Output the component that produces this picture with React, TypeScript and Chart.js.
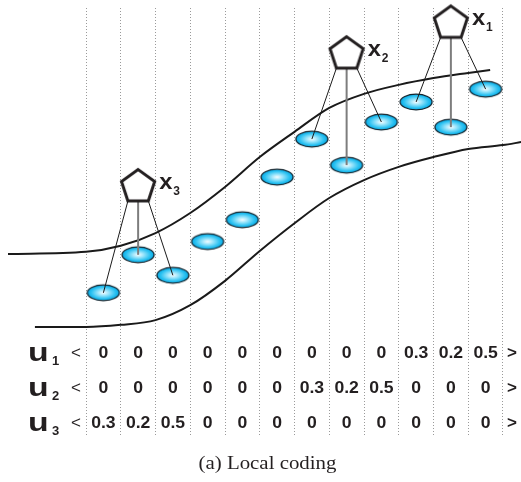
import React, { useEffect, useRef } from "react";
import { Chart, registerables } from "chart.js";

Chart.register(...registerables);

// ---- data ----
const COLUMN_COUNT = 12; // codebook bases (columns of the coding table)
const BASIS_LEVELS = [3.33, 4.22, 3.74, 4.53, 5.04, 6.04, 6.93, 6.32, 7.33, 7.8, 7.21, 8.1];

const SAMPLE_NAMES = ["1", "2", "3"]; // x1, x2, x3 subscripts
const SAMPLE_COLUMNS = [10.5, 7.5, 1.5];
const SAMPLE_LEVELS = [9.64, 8.92, 5.81];
const SAMPLE_BASES = [
  [9, 10, 11],
  [6, 7, 8],
  [0, 1, 2],
];

const UPPER_X = [-2.245, 0, 1, 2, 3, 4, 5, 6, 7, 8, 9, 10, 11, 11.63];
const UPPER_Y = [4.24, 4.29, 4.43, 4.73, 5.2, 5.81, 6.51, 7.1, 7.66, 7.99, 8.2, 8.36, 8.48, 8.55];

const LOWER_X = [-1.47, 0, 1, 2, 3, 4, 5, 6, 7, 8, 9, 10, 11, 12, 12.52];
const LOWER_Y = [2.53, 2.53, 2.58, 2.69, 3.04, 3.61, 4.31, 4.96, 5.55, 5.97, 6.28, 6.51, 6.7, 6.79, 6.86];

const ROW_NAMES = ["1", "2", "3"];
const U1 = [0, 0, 0, 0, 0, 0, 0, 0, 0, 0.3, 0.2, 0.5];
const U2 = [0, 0, 0, 0, 0, 0, 0.3, 0.2, 0.5, 0, 0, 0];
const U3 = [0.3, 0.2, 0.5, 0, 0, 0, 0, 0, 0, 0, 0, 0];
const CODES = [U1, U2, U3];

const CAPTION = "(a) Local coding";

// ---- styling ----
const INK = "#231f20";
const SANS = '"Liberation Sans", Arial, sans-serif';
const SERIF = '"Liberation Serif", "Times New Roman", serif';
const PENT_R = 17.4;

function makeBasisImage(): HTMLCanvasElement {
  const c = document.createElement("canvas");
  c.width = 36;
  c.height = 20;
  const g = c.getContext("2d")!;
  g.save();
  g.translate(18, 10);
  g.scale(1, 7.8 / 16);
  const grad = g.createRadialGradient(0, 0, 0, 0, 0, 16);
  grad.addColorStop(0, "#f6fdff");
  grad.addColorStop(0.3, "#a6e8fc");
  grad.addColorStop(0.75, "#2cc2f2");
  grad.addColorStop(1, "#05aae6");
  g.beginPath();
  g.arc(0, 0, 16, 0, Math.PI * 2);
  g.fillStyle = grad;
  g.fill();
  g.restore();
  g.beginPath();
  g.ellipse(18, 10, 16, 7.8, 0, 0, Math.PI * 2);
  g.lineWidth = 1.3;
  g.strokeStyle = "#13232c";
  g.stroke();
  return c;
}

function pentagonVertices(cx: number, cy: number) {
  return [-90, -18, 54, 126, 198].map((d) => {
    const a = (d * Math.PI) / 180;
    return { x: cx + PENT_R * Math.cos(a), y: cy + PENT_R * Math.sin(a) };
  });
}

function makePentagonImage(): HTMLCanvasElement {
  const c = document.createElement("canvas");
  c.width = 44;
  c.height = 44;
  const g = c.getContext("2d")!;
  const v = pentagonVertices(22, 22);
  g.beginPath();
  v.forEach((p, i) => (i ? g.lineTo(p.x, p.y) : g.moveTo(p.x, p.y)));
  g.closePath();
  g.fillStyle = "#ffffff";
  g.fill();
  g.lineWidth = 3;
  g.lineJoin = "miter";
  g.strokeStyle = INK;
  g.stroke();
  return c;
}

function drawText(
  ctx: CanvasRenderingContext2D,
  text: string,
  x: number,
  y: number,
  font: string,
  align: CanvasTextAlign,
  sx = 1
) {
  ctx.save();
  ctx.font = font;
  ctx.textAlign = align;
  ctx.textBaseline = "alphabetic";
  ctx.fillStyle = INK;
  ctx.translate(x, y);
  ctx.scale(sx, 1);
  ctx.fillText(text, 0, 0);
  ctx.restore();
}

const diagramPlugin = {
  id: "diagram",
  afterDatasetDraw(chart: any, args: any) {
    if (args.index !== 1) return; // connectors go over the bases, under the samples
    const ctx: CanvasRenderingContext2D = chart.ctx;
    const samples = chart.getDatasetMeta(0).data;
    const bases = chart.getDatasetMeta(1).data;
    const seg = (a: any, b: any, color: string, w: number) => {
      ctx.beginPath();
      ctx.moveTo(a.x, a.y);
      ctx.lineTo(b.x, b.y);
      ctx.strokeStyle = color;
      ctx.lineWidth = w;
      ctx.stroke();
    };
    ctx.save();
    samples.forEach((p: any, i: number) => {
      const v = pentagonVertices(p.x, p.y);
      const [l, m, r] = SAMPLE_BASES[i];
      seg({ x: p.x, y: v[2].y }, bases[m], "#7d7d7d", 2);
      seg(v[3], bases[l], "#1a1a1a", 1);
      seg(v[2], bases[r], "#1a1a1a", 1);
    });
    ctx.restore();
  },
  afterDraw(chart: any) {
    const ctx: CanvasRenderingContext2D = chart.ctx;
    const xs = chart.scales.x;
    const area = chart.chartArea;
    // sample labels
    chart.getDatasetMeta(0).data.forEach((p: any, i: number) => {
      drawText(ctx, "x", p.x + 21, p.y + 2, `bold 22px ${SANS}`, "left", 1.08);
      drawText(ctx, SAMPLE_NAMES[i], p.x + 35, p.y + 8, `bold 12px ${SANS}`, "left");
    });
    // coding table
    const left = xs.getPixelForValue(0);
    const right = xs.getPixelForValue(COLUMN_COUNT);
    CODES.forEach((row, r) => {
      const base = area.bottom - 77.5 + r * 35;
      drawText(ctx, "u", left - 58, base + 3.5, `bold 26px ${SANS}`, "left", 1.3);
      drawText(ctx, ROW_NAMES[r], left - 34, base + 7, `bold 13px ${SANS}`, "left");
      drawText(ctx, "<", left - 10, base, `17px ${SANS}`, "center");
      drawText(ctx, ">", right + 9, base, `bold 17px ${SANS}`, "center");
      row.forEach((v, c) => {
        drawText(ctx, String(v), xs.getPixelForValue(c + 0.5), base, `bold 16px ${SANS}`, "center", 1.1);
      });
    });
    // caption
    drawText(ctx, CAPTION, 267.5, 469, `18px ${SERIF}`, "center", 1.16);
  },
};

export default function App() {
  const ref = useRef<HTMLCanvasElement | null>(null);
  useEffect(() => {
    document.body.style.margin = "0";
    const canvas = ref.current!;
    const basisImg = makeBasisImage();
    const pentImg = makePentagonImage();
    const edges = Array.from({ length: COLUMN_COUNT + 1 }, (_, i) => i);
    const chart = new Chart(canvas, {
      type: "scatter",
      data: {
        datasets: [
          {
            label: "samples",
            data: SAMPLE_COLUMNS.map((x, i) => ({ x, y: SAMPLE_LEVELS[i] })),
            pointStyle: pentImg as any,
            pointRadius: 18,
            showLine: false,
            clip: false as any,
          },
          {
            label: "bases",
            data: BASIS_LEVELS.map((y, i) => ({ x: i + 0.5, y })),
            pointStyle: basisImg as any,
            pointRadius: 17,
            showLine: false,
            clip: false as any,
          },
          {
            label: "upper",
            data: UPPER_X.map((x, i) => ({ x, y: UPPER_Y[i] })),
            showLine: true,
            pointRadius: 0,
            borderColor: "#1a1a1a",
            borderWidth: 2,
            cubicInterpolationMode: "monotone",
            clip: false as any,
          },
          {
            label: "lower",
            data: LOWER_X.map((x, i) => ({ x, y: LOWER_Y[i] })),
            showLine: true,
            pointRadius: 0,
            borderColor: "#1a1a1a",
            borderWidth: 2,
            cubicInterpolationMode: "monotone",
            clip: false as any,
          },
        ],
      },
      options: {
        responsive: false,
        animation: false,
        events: [],
        layout: { autoPadding: false, padding: { top: 8, bottom: 47, left: 0, right: 0 } },
        plugins: { legend: { display: false }, tooltip: { enabled: false }, title: { display: false } },
        scales: {
          x: {
            type: "linear",
            min: -86 / 34.75,
            max: (521 - 86) / 34.75,
            afterBuildTicks: (scale: any) => {
              scale.ticks = edges.map((value) => ({ value }));
            },
            ticks: { display: false },
            grid: { display: true, drawTicks: false, color: "#9a9a9a", lineWidth: 1 },
            border: { display: false, dash: [1, 2] },
          },
          y: { type: "linear", min: 0, max: 10, display: false },
        },
      },
      plugins: [diagramPlugin as any],
    });
    return () => chart.destroy();
  }, []);
  return (
    <div style={{ width: 521, height: 482 }}>
      <canvas ref={ref} width={521} height={482} style={{ display: "block" }} />
    </div>
  );
}
